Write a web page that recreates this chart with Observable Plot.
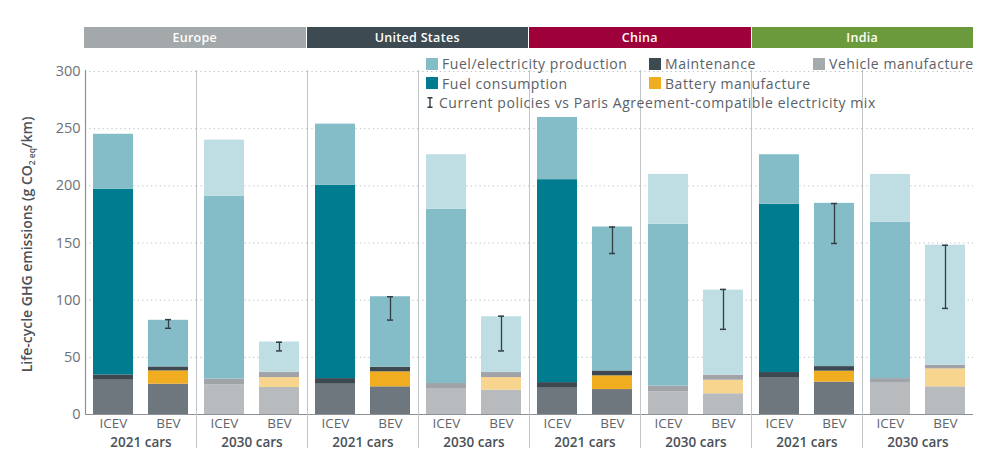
<!DOCTYPE html>
<html>
<head>
<meta charset="utf-8">
<script src="https://cdn.jsdelivr.net/npm/d3@7"></script>
<script src="https://cdn.jsdelivr.net/npm/@observablehq/plot@0.6"></script>
<style>
  body { margin: 0; background: #fff; font-family: "Open Sans", sans-serif; }
  #wrap { position: relative; width: 1000px; height: 466px; overflow: hidden; }
  #header { position: absolute; top: 27px; left: 84px; width: 889px; height: 21px; display: flex; }
  #header div { flex: 1; color: #fff; font-weight: 600; font-size: 12.5px; letter-spacing: 0.3px; line-height: 21px; text-align: center; border-right: 1px solid #fff; }
  #header div:last-child { border-right: none; }
  #chart { position: absolute; top: 48px; left: 0; }
  #legend { position: absolute; left: 426px; top: 54px; display: grid; grid-template-columns: 223px 164px auto; grid-auto-rows: 19.5px; font-size: 14px; letter-spacing: 0.55px; color: #5b6167; align-items: center; }
  #legend .item { display: flex; align-items: center; white-space: nowrap; }
  #legend .sw { width: 12px; height: 12px; margin-right: 4px; flex: none; }
  #legend .wide { grid-column: 1 / span 3; }
  #legend svg { margin-right: 5px; flex: none; }
</style>
</head>
<body>
<div id="wrap">
  <div id="header"></div>
  <div id="chart"></div>
  <div id="legend"></div>
</div>
<script>
// ---------- data ----------
const regions = ["Europe", "United States", "China", "India"];
const years = ["2021", "2030"];
const types = ["ICEV", "BEV"];
// order: region -> year -> type (ICEV, BEV)
const vehicleManufacture = [30, 26.5, 26, 23.6, 26.5, 24.2, 22.7, 21.3, 23, 21.8, 19.8, 18.1, 31.8, 28.3, 27.4, 24.2];
const batteryManufacture = [0, 11.6, 0, 8.7, 0, 13.1, 0, 11, 0, 12, 0, 11.9, 0, 9.6, 0, 15.7];
const maintenance = [4.6, 3.5, 5, 4.4, 4.9, 4.1, 4.4, 4.4, 4.9, 4.3, 5, 4.4, 4.9, 4, 4, 3.2];
const fuelConsumption = [162.5, 0, 160, 0, 169, 0, 152.4, 0, 177.5, 0, 141.6, 0, 147.2, 0, 136.8, 0];
const fuelElectricityProduction = [48, 40.8, 49, 26.7, 53.6, 61.6, 47.7, 48.8, 54.4, 125.9, 43.6, 74.4, 43.3, 142.8, 41.8, 105];
// current policies vs Paris-compatible electricity mix (BEV only)
const mixLow = [null, 75.4, null, 55.6, null, 82.6, null, 55.6, null, 140.8, null, 74.5, null, 149.6, null, 92.8];
const mixHigh = [null, 83, null, 63.2, null, 103, null, 86, null, 164, null, 109.4, null, 184.5, null, 148];
const yTicks = [0, 50, 100, 150, 200, 250, 300];
const legendLabels = ["Fuel/electricity production", "Maintenance", "Vehicle manufacture", "Fuel consumption", "Battery manufacture"];
const errorLabel = "Current policies vs Paris Agreement-compatible electricity mix";

// ---------- styles ----------
const regionColors = ["#a3a8ab", "#3e4a52", "#9e0039", "#6b9a3d"];
const series = [
  {name: "Vehicle manufacture", values: vehicleManufacture, c2021: "#6e767e", c2030: "#b7bbbe"},
  {name: "Battery manufacture", values: batteryManufacture, c2021: "#f0ad1f", c2030: "#f8d58e"},
  {name: "Maintenance", values: maintenance, c2021: "#3e4850", c2030: "#a0a4a8"},
  {name: "Fuel consumption", values: fuelConsumption, c2021: "#007c91", c2030: "#84bdc8"},
  {name: "Fuel/electricity production", values: fuelElectricityProduction, c2021: "#84bdc8", c2030: "#bfdee3"}
];
const legendColors = ["#84bdc8", "#3e4a52", "#a5aaad", "#007c91", "#f0ad1f"];

// ---------- build tables ----------
const groups = regions.flatMap(r => years.map(y => r + "|" + y));
const segs = [], bars = [], errs = [];
let i = 0;
for (const r of regions) for (const y of years) for (const t of types) {
  const g = r + "|" + y;
  bars.push({group: g, type: t});
  for (const s of series) {
    segs.push({group: g, type: t, series: s.name, value: s.values[i], fill: y === "2021" ? s.c2021 : s.c2030});
  }
  if (mixLow[i] != null) errs.push({group: g, type: t, lo: mixLow[i], hi: mixHigh[i]});
  i++;
}
const groupMeta = groups.map(g => ({group: g, label: g.split("|")[1] + " cars"}));

// ---------- header & legend ----------
const header = document.getElementById("header");
regions.forEach((r, k) => {
  const d = document.createElement("div");
  d.textContent = r;
  d.style.background = regionColors[k];
  header.appendChild(d);
});
const legend = document.getElementById("legend");
legendLabels.forEach((lab, k) => {
  const it = document.createElement("div");
  it.className = "item";
  it.innerHTML = `<span class="sw" style="background:${legendColors[k]}"></span><span>${lab}</span>`;
  legend.appendChild(it);
  if (k === 4) legend.appendChild(document.createElement("div"));
});
const errItem = document.createElement("div");
errItem.className = "item wide";
errItem.innerHTML = `<svg width="8" height="11" viewBox="0 0 8 11"><path d="M1.5 0.75H6.5M4 0.75V10.25M1.5 10.25H6.5" stroke="#333d44" stroke-width="1.4" fill="none"/></svg><span>${errorLabel}</span>`;
legend.appendChild(errItem);

// ---------- chart ----------
const W = 1000, H = 418, mL = 84, mR = 27, mT = 23, mB = 52;
const chart = Plot.plot({
  width: W, height: H,
  marginTop: mT, marginBottom: mB, marginLeft: mL, marginRight: mR,
  style: {fontFamily: "'Open Sans', sans-serif", fontSize: "14px", color: "#6b7177", background: "transparent"},
  fx: {domain: groups, padding: 0, axis: null, label: null},
  x: {domain: types, paddingInner: 0.28, paddingOuter: 0.14, axis: null, label: null},
  y: {domain: [0, 300], label: null},
  color: {type: "identity"},
  marks: [
    Plot.gridY({ticks: yTicks.slice(1), stroke: "#b9bec2", strokeOpacity: 1, strokeDasharray: "1.2,3.2"}),
    Plot.barY(segs, Plot.stackY({fx: "group", x: "type", y: "value", fill: "fill"})),
    Plot.ruleY([0], {stroke: "#8b9197", strokeWidth: 1.2}),
    Plot.ruleX(errs, {fx: "group", x: "type", y1: "lo", y2: "hi", stroke: "#333d44", strokeWidth: 1.3}),
    Plot.tickY(errs, {fx: "group", x: "type", y: "lo", insetLeft: 17, insetRight: 17, stroke: "#333d44", strokeWidth: 1.5}),
    Plot.tickY(errs, {fx: "group", x: "type", y: "hi", insetLeft: 17, insetRight: 17, stroke: "#333d44", strokeWidth: 1.5}),
    Plot.axisY({ticks: yTicks, tickSize: 0, tickPadding: 5, fill: "#6b7177", fontSize: 14.5, letterSpacing: 0.4}),
    Plot.text(bars, {fx: "group", x: "type", text: "type", frameAnchor: "bottom", dy: 13, fill: "#5f656b", fontSize: 13.5}),
    Plot.text(groupMeta, {fx: "group", text: "label", frameAnchor: "bottom", dy: 32, fill: "#4a5158", fontSize: 13.5, fontWeight: 600})
  ]
});
document.getElementById("chart").appendChild(chart);

// separators and axis line, positioned via the facet scale
const svg = d3.select(chart);
const fx = chart.scale("fx");
const sep = svg.append("g");
groups.forEach((g, k) => {
  const x = Math.round(fx.apply(g)) + 0.5;
  if (k === 0) {
    sep.append("line").attr("x1", x).attr("x2", x).attr("y1", mT - 1).attr("y2", H - mB)
      .attr("stroke", "#8b9197").attr("stroke-width", 1.2);
  } else {
    sep.append("line").attr("x1", x).attr("x2", x).attr("y1", mT - 1).attr("y2", H - mB + 34)
      .attr("stroke", "#c3c6c9").attr("stroke-width", 1);
  }
});
// y-axis title with subscript
const t = svg.append("text")
  .attr("transform", `translate(32,${(mT + H - mB) / 2 + 2}) rotate(-90)`)
  .attr("text-anchor", "middle")
  .attr("font-family", "'Open Sans', sans-serif")
  .attr("font-weight", 600).attr("font-size", 14).attr("fill", "#4b5157");
t.append("tspan").text("Life-cycle GHG emissions (g CO");
t.append("tspan").attr("font-size", 8.5).attr("dy", 3).text("2 eq");
t.append("tspan").attr("dy", -3).text("/km)");
</script>
</body>
</html>
